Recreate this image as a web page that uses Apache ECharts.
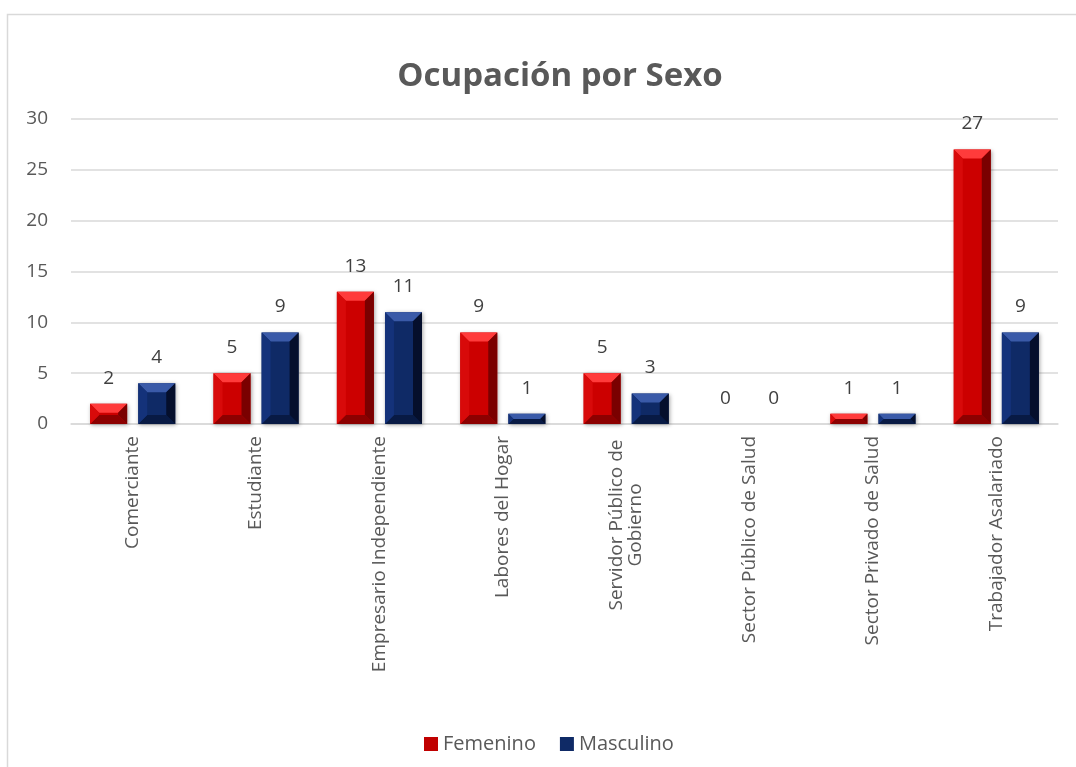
<!DOCTYPE html>
<html>
<head>
<meta charset="utf-8">
<script src="https://cdn.jsdelivr.net/npm/echarts@6/dist/echarts.min.js"></script>
<style>
  html, body { margin: 0; padding: 0; background: #fff; }
  #chart { width: 1076px; height: 767px; }
</style>
</head>
<body>
<div id="chart"></div>
<script>
// 数据
const categories = [
  'Comerciante',
  'Estudiante',
  'Empresario Independiente',
  'Labores del Hogar',
  'Servidor Público de\nGobierno',
  'Sector Público de Salud',
  'Sector Privado de Salud',
  'Trabajador Asalariado'
]
const femenino = [2, 5, 13, 9, 5, 0, 1, 27]
const masculino = [4, 9, 11, 1, 3, 0, 1, 9]
const yTicks = { min: 0, max: 30, interval: 5 }

const FONT = '"Open Sans", "Noto Sans", sans-serif'

// 立体柱子配色
const palettes = {
  red: { face: '#cc0000', top: '#ff3b3b', left: '#d80a0a', right: '#7a0000', bottom: '#8c0000' },
  blue: { face: '#0f2a66', top: '#3a5aa8', left: '#14327a', right: '#050f2c', bottom: '#081a44' }
}

function bevelBar (pal, side) {
  return function (params, api) {
    const idx = api.value(0)
    const v = api.value(1)
    const base = api.coord([idx, 0])
    const top = api.coord([idx, v])
    const band = api.size([1, 0])[0]
    const w = band * 0.3
    const gap = band * 0.09
    const cx = base[0] + side * (w / 2 + gap / 2)
    const x0 = cx - w / 2
    const x1 = cx + w / 2
    const y0 = top[1]
    const y1 = base[1]
    const h = y1 - y0
    const b = Math.min(9, h / 2, w / 2)
    const label = {
      type: 'rect',
      shape: { x: x0, y: y0, width: w, height: h },
      style: { fill: h > 0 ? pal.face : 'transparent', shadowBlur: h > 0 ? 4 : 0, shadowColor: 'rgba(0,0,0,0.35)', shadowOffsetX: 1, shadowOffsetY: 1 },
      textContent: {
        style: { text: String(v), fill: '#404040', font: '19px ' + FONT }
      },
      textConfig: { position: 'top', distance: 16 }
    }
    const children = [label]
    if (h > 0) {
      children.push(
        { type: 'polygon', shape: { points: [[x0, y0], [x1, y0], [x1 - b, y0 + b], [x0 + b, y0 + b]] }, style: { fill: pal.top } },
        { type: 'polygon', shape: { points: [[x0, y1], [x1, y1], [x1 - b, y1 - b], [x0 + b, y1 - b]] }, style: { fill: pal.bottom } },
        { type: 'polygon', shape: { points: [[x0, y0], [x0 + b, y0 + b], [x0 + b, y1 - b], [x0, y1]] }, style: { fill: pal.left } },
        { type: 'polygon', shape: { points: [[x1, y0], [x1 - b, y0 + b], [x1 - b, y1 - b], [x1, y1]] }, style: { fill: pal.right } }
      )
    }
    return { type: 'group', children }
  }
}

const chart = echarts.init(document.getElementById('chart'))
chart.setOption({
  animation: false,
  backgroundColor: '#fff',
  graphic: [
    {
      type: 'polyline',
      shape: { points: [[7.5, 767], [7.5, 14.5], [1076, 14.5]] },
      style: { stroke: '#d9d9d9', lineWidth: 1.5, fill: null },
      silent: true
    }
  ],
  title: {
    text: 'Ocupación por Sexo',
    left: 555,
    textAlign: 'center',
    top: 55,
    textStyle: { color: '#595959', fontSize: 33, fontWeight: 'bold', fontFamily: FONT }
  },
  legend: {
    data: ['Femenino', 'Masculino'],
    left: 419,
    top: 729,
    icon: 'rect',
    itemWidth: 14,
    itemHeight: 14,
    itemGap: 24,
    textStyle: { color: '#595959', fontSize: 20, fontFamily: FONT }
  },
  grid: { left: 71, right: 18, top: 119, bottom: 343, containLabel: false },
  xAxis: {
    type: 'category',
    data: categories,
    axisLine: { lineStyle: { color: '#d9d9d9', width: 1.5 } },
    axisTick: { show: false },
    axisLabel: {
      interval: 0,
      rotate: 90,
      margin: 12,
      color: '#595959',
      fontSize: 19,
      fontFamily: FONT,
      formatter: function (val) {
        if (val.indexOf('\n') < 0) return val
        return val.split('\n').map(s => '{c|' + s + '}').join('\n')
      },
      rich: { c: { width: 178, align: 'center', fontSize: 19, fontFamily: FONT, color: '#595959' } }
    }
  },
  yAxis: {
    type: 'value',
    min: yTicks.min,
    max: yTicks.max,
    interval: yTicks.interval,
    axisLine: { show: false },
    axisTick: { show: false },
    splitLine: { lineStyle: { color: '#d9d9d9', width: 1.5 } },
    axisLabel: { margin: 23, color: '#595959', fontSize: 19, fontFamily: FONT }
  },
  series: [
    {
      name: 'Femenino',
      type: 'custom',
      renderItem: bevelBar(palettes.red, -1),
      itemStyle: { color: '#c00000' },
      encode: { x: 0, y: 1 },
      data: femenino.map((v, i) => [i, v])
    },
    {
      name: 'Masculino',
      type: 'custom',
      renderItem: bevelBar(palettes.blue, 1),
      itemStyle: { color: '#0f2a66' },
      encode: { x: 0, y: 1 },
      data: masculino.map((v, i) => [i, v])
    }
  ]
})
</script>
</body>
</html>
